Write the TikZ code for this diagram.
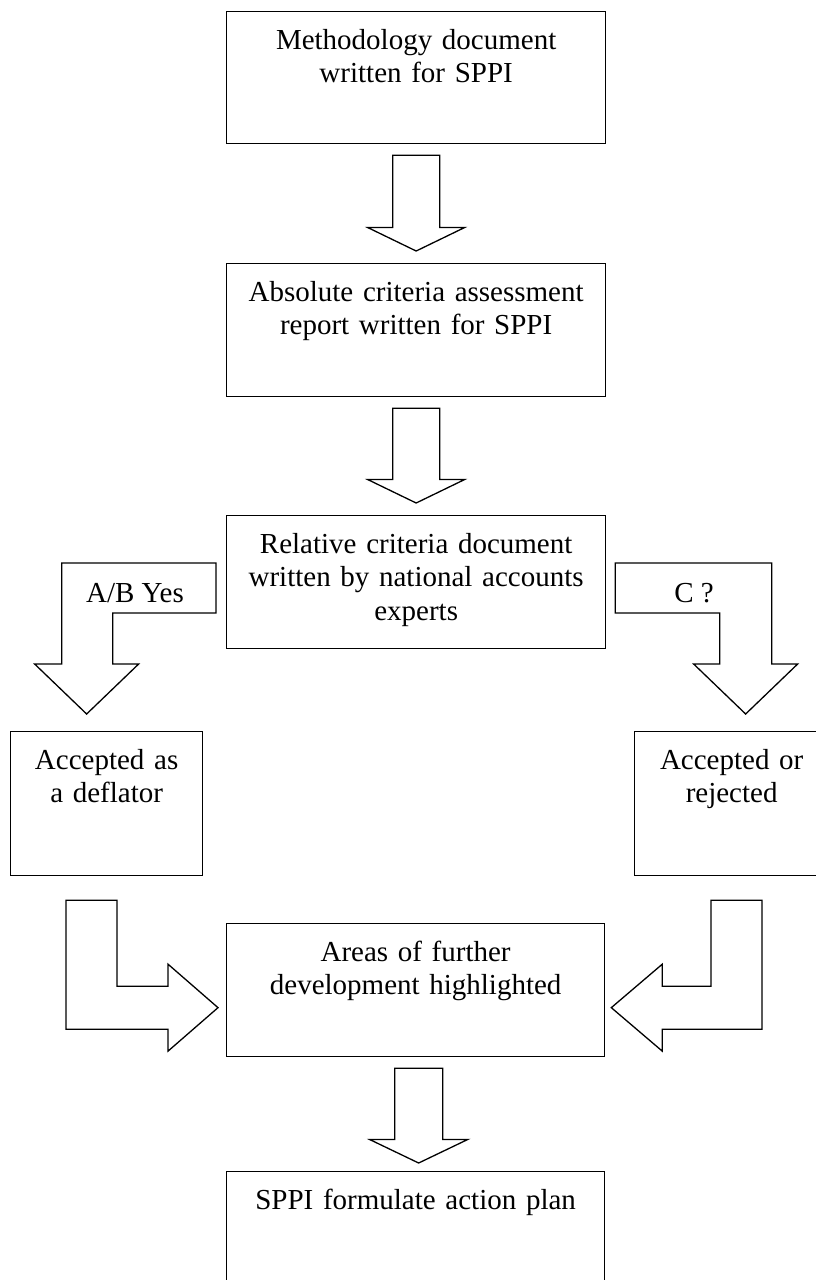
\documentclass[tikz,border=0pt]{standalone}
\usepackage{fontspec}
\setmainfont{Liberation Serif}
\usetikzlibrary{calc}
\newcommand\blockdown[3]{%
  \draw[blk] let \p1=(#1), \p2=(#2) in
    (\x2-#3,\y1) -- (\x2+#3,\y1) -- (\x2+#3,\y2+23.5pt) -- (\x2+#3+25pt,\y2+23.5pt)
    -- (\x2,\y2) -- (\x2-#3-25pt,\y2+23.5pt) -- (\x2-#3,\y2+23.5pt) -- cycle;}
\begin{document}
\begin{tikzpicture}[x=1pt,y=-1pt,
  box/.style={draw, line width=1.3pt, anchor=north west, inner sep=0pt},
  txt/.style={anchor=base, inner sep=0pt, align=center, text width=#1,
              font=\fontsize{29}{33.5}\selectfont},
  lbl/.style={anchor=base, inner sep=0pt, font=\fontsize{29}{33.5}\selectfont},
  blk/.style={draw, line width=1.3pt, line join=miter, fill=white},
]
\useasboundingbox (0,0) rectangle (816,1280);
\clip (0,0) rectangle (816,1280);

% boxes
\node[box, minimum width=379pt, minimum height=132pt] (b1) at (226,11) {};
\node[box, minimum width=379pt, minimum height=133pt] (b2) at (226,263) {};
\node[box, minimum width=379pt, minimum height=133pt] (b3) at (226,515) {};
\node[box, minimum width=192pt, minimum height=144pt] (bL) at (10,731) {};
\node[box, minimum width=194pt, minimum height=144pt] (bR) at (634,731) {};
\node[box, minimum width=378pt, minimum height=133pt] (b4) at (226,923) {};
\node[box, minimum width=378pt, minimum height=133pt] (b5) at (226,1171) {};

% texts
\node[txt=370pt] (t1) at ($(b1.north)+(0,38)$) {Methodology document\\written for SPPI};
\node[txt=370pt] (t2) at ($(b2.north)+(0,38)$) {Absolute criteria assessment\\report written for SPPI};
\node[txt=370pt] (t3) at ($(b3.north)+(0,38)$) {Relative criteria document\\written by national accounts\\experts};
\node[txt=185pt] (tL) at ($(bL.north)+(0,38)$) {Accepted as\\a deflator};
\node[txt=185pt] (tR) at ($(bR.north)+(0,38)$) {Accepted or\\rejected};
\node[txt=370pt] (t4) at ($(b4.north)+(0,38)$) {Areas of further\\development highlighted};
\node[txt=370pt] (t5) at ($(b5.north)+(0,38)$) {SPPI formulate action plan};

% straight block arrows
\coordinate (a1t) at ($(b1.south)+(0,11)$);
\coordinate (a1h) at ($(b2.north)+(0,-12)$);
\blockdown{a1t}{a1h}{23.5pt}
\coordinate (a2t) at ($(b2.south)+(0,11)$);
\coordinate (a2h) at ($(b3.north)+(0,-12)$);
\blockdown{a2t}{a2h}{23.5pt}
\coordinate (a5t) at ($(b4.south)+(3,11)$);
\coordinate (a5h) at ($(b5.north)+(3,-8)$);
\blockdown{a5t}{a5h}{24pt}

% bent arrow: A/B Yes
\coordinate (s1) at ($(b3.north west)+(-10,48)$);
\coordinate (e1) at ($(bL.north)+(-20,-17)$);
\draw[blk] let \p1=(s1), \p2=(e1) in
  (\x1,\y1) -- (\x2-25pt,\y1) -- (\x2-25pt,\y2+50pt) -- (\x2-52pt,\y2+50pt)
  -- (\x2,\y2) -- (\x2+52pt,\y2+50pt) -- (\x2+26pt,\y2+50pt)
  -- (\x2+26pt,\y1-50pt) -- (\x1,\y1-50pt) -- cycle;
\node[lbl] (l1) at (135,602) {A/B Yes};

% bent arrow: C ?
\coordinate (s2) at ($(b3.north east)+(9,48)$);
\coordinate (e2) at ($(bR.north)+(14,-17)$);
\draw[blk] let \p1=(s2), \p2=(e2) in
  (\x1,\y1) -- (\x2+26pt,\y1) -- (\x2+26pt,\y2+50pt) -- (\x2+52pt,\y2+50pt)
  -- (\x2,\y2) -- (\x2-52pt,\y2+50pt) -- (\x2-26pt,\y2+50pt)
  -- (\x2-26pt,\y1-50pt) -- (\x1,\y1-50pt) -- cycle;
\node[lbl] (l2) at (694,602) {C ?};

% bent arrow: left box to areas
\coordinate (s3) at ($(bL.south west)+(56,24)$);
\coordinate (e3) at ($(b4.west)+(-8,17.5)$);
\draw[blk] let \p1=(s3), \p2=(e3) in
  (\x1,\y1) -- (\x1+51pt,\y1) -- (\x1+51pt,\y2+21.5pt) -- (\x2-50pt,\y2+21.5pt)
  -- (\x2-50pt,\y2+43.5pt) -- (\x2,\y2) -- (\x2-50pt,\y2-43.5pt)
  -- (\x2-50pt,\y2-21.5pt) -- (\x1,\y2-21.5pt) -- cycle;

% bent arrow: right box to areas
\coordinate (s4) at ($(bR.south west)+(128,24)$);
\coordinate (e4) at ($(b4.east)+(6,17.5)$);
\draw[blk] let \p1=(s4), \p2=(e4) in
  (\x1,\y1) -- (\x1-51pt,\y1) -- (\x1-51pt,\y2+21.5pt) -- (\x2+51pt,\y2+21.5pt)
  -- (\x2+51pt,\y2+43.5pt) -- (\x2,\y2) -- (\x2+51pt,\y2-43.5pt)
  -- (\x2+51pt,\y2-21.5pt) -- (\x1,\y2-21.5pt) -- cycle;
\end{tikzpicture}
\end{document}
